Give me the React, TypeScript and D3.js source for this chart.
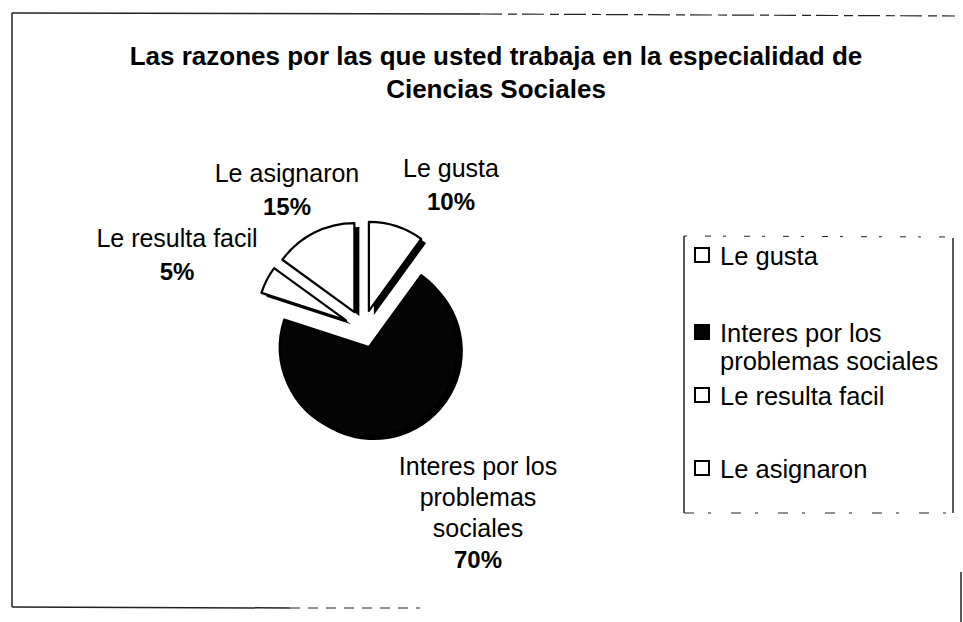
import React from "react";
import * as d3 from "d3";

const categories = ["Le gusta", "Interes por los problemas sociales", "Le resulta facil", "Le asignaron"];
const values = [10, 70, 5, 15];
const percentLabels = ["10%", "70%", "5%", "15%"];
const sliceLabelLines = [["Le gusta"], ["Interes por los", "problemas", "sociales"], ["Le resulta facil"], ["Le asignaron"]];
const legendLines = [["Le gusta"], ["Interes por los", "problemas sociales"], ["Le resulta facil"], ["Le asignaron"]];
const title = ["Las razones por las que usted trabaja en la especialidad de", "Ciencias Sociales"];

// styling / layout (not data)
const fills = ["#ffffff", "#050505", "#ffffff", "#ffffff"];
const FONT = "'Liberation Sans', Arial, Helvetica, sans-serif";
const W = 963, H = 622;
const cx = 363, cy = 329, R = 89, EXPLODE = 19;
// label anchors: [center x, first baseline y]
const labelAnchor: [number, number][] = [[451, 177], [478, 475], [177, 247], [287, 182]];
const legendBaseline = [265, 342, 405, 478];

export default function App() {
  const pie = d3.pie<number>().sort(null).value((d) => d).startAngle(0).endAngle(2 * Math.PI);
  const arcs = pie(values);
  const arc = d3.arc<d3.PieArcDatum<number>>().innerRadius(0).outerRadius(R);
  const lineGap = 31;

  return (
    <svg width={W} height={H} style={{ position: "absolute", left: 0, top: 0, background: "#fff" }} fontFamily={FONT}>
      <rect x={0} y={0} width={W} height={H} fill="#fff" />
      {/* outer frame (scanned look) */}
      <g stroke="#222" fill="none">
        <line x1={12} y1={13} x2={480} y2={14} strokeWidth={1.5} />
        <line x1={480} y1={14} x2={955} y2={16} strokeWidth={1.2} strokeDasharray="22 6 9 5" />
        <line x1={12} y1={13} x2={12} y2={607} strokeWidth={1.5} />
        <line x1={12} y1={607} x2={290} y2={608} strokeWidth={1.5} />
        <line x1={290} y1={608} x2={420} y2={608} strokeWidth={1} strokeDasharray="10 8" />
        <line x1={961} y1={572} x2={961} y2={622} strokeWidth={1.5} />
      </g>

      {/* title */}
      <g fontWeight="bold" fontSize={26} textAnchor="middle" fill="#000">
        {title.map((t, i) => (
          <text key={i} x={496} y={65 + i * 33}>{t}</text>
        ))}
      </g>

      {/* pie */}
      <g>
        {arcs.map((a, i) => {
          const mid = (a.startAngle + a.endAngle) / 2;
          const ox = cx + Math.sin(mid) * EXPLODE;
          const oy = cy - Math.cos(mid) * EXPLODE;
          return (
            <g key={"s" + i} transform={`translate(${ox},${oy})`}>
              <path d={arc(a) || ""} transform="translate(5,4)" fill="#000" />
              <path d={arc(a) || ""} fill={fills[i]} stroke="#000" strokeWidth={2.2} strokeLinejoin="round" />
            </g>
          );
        })}
      </g>

      {/* slice labels */}
      <g textAnchor="middle" fill="#000">
        {sliceLabelLines.map((lines, i) => {
          const [lx, ly] = labelAnchor[i];
          return (
            <g key={"l" + i}>
              {lines.map((t, j) => (
                <text key={j} x={lx} y={ly + j * lineGap} fontSize={25}>{t}</text>
              ))}
              <text x={lx} y={ly + lines.length * lineGap + (i === 1 ? 0 : 2)} fontSize={24} fontWeight="bold">
                {percentLabels[i]}
              </text>
            </g>
          );
        })}
      </g>

      {/* legend */}
      <g>
        <g stroke="#222" fill="none">
          <line x1={684} y1={236} x2={684} y2={513} strokeWidth={1.5} />
          <line x1={953} y1={238} x2={953} y2={513} strokeWidth={1.5} />
          <line x1={684} y1={236} x2={953} y2={237} strokeWidth={1} strokeDasharray="3 18 6 12" />
          <line x1={684} y1={513} x2={953} y2={513} strokeWidth={1.2} strokeDasharray="10 14 3 20" />
        </g>
        {categories.map((c, i) => {
          const by = legendBaseline[i];
          return (
            <g key={"g" + i}>
              <rect x={695} y={by - 17} width={14} height={14} fill={fills[i]} stroke="#000" strokeWidth={2} />
              {legendLines[i].map((t, j) => (
                <text key={j} x={720} y={by + j * 28} fontSize={25.5} fill="#000">{t}</text>
              ))}
            </g>
          );
        })}
      </g>
    </svg>
  );
}
